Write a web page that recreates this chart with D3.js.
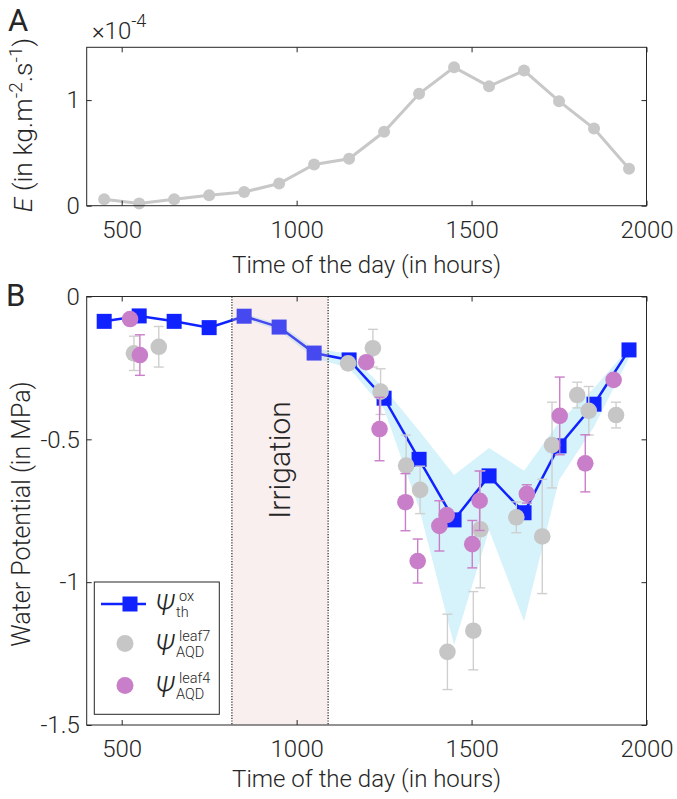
<!DOCTYPE html>
<html><head><meta charset="utf-8">
<script src="https://cdn.jsdelivr.net/npm/d3@7"></script>
<style>
html,body{margin:0;padding:0;background:#fff;}
svg text{font-family:"Roboto","Liberation Sans",Arial,sans-serif;font-weight:300;fill:#262626;}
</style></head>
<body><svg id="c" width="677" height="799"></svg>
<script>
// ---------- DATA ----------
const timesA = [450,550,650,750,850,950,1050,1150,1250,1350,1450,1550,1650,1750,1850,1950];
const evap   = [0.6e-5,0.2e-5,0.6e-5,1.0e-5,1.3e-5,2.1e-5,3.9e-5,4.45e-5,7.0e-5,10.6e-5,13.1e-5,11.3e-5,12.8e-5,9.9e-5,7.3e-5,3.5e-5];

const timesB   = [450,550,650,750,850,950,1050,1150,1250,1350,1450,1550,1650,1750,1850,1950];
const psiTh    = [-0.087,-0.068,-0.087,-0.109,-0.069,-0.107,-0.198,-0.222,-0.356,-0.570,-0.782,-0.628,-0.757,-0.523,-0.377,-0.187];
const psiUpper = [-0.085,-0.066,-0.085,-0.107,-0.060,-0.095,-0.182,-0.200,-0.320,-0.470,-0.625,-0.530,-0.610,-0.440,-0.320,-0.180];
const psiLower = [-0.089,-0.070,-0.089,-0.111,-0.078,-0.120,-0.215,-0.250,-0.395,-0.740,-1.220,-0.817,-1.138,-0.642,-0.456,-0.215];

const leaf7Time = [535,606,1147,1218,1240,1313,1353,1431,1505,1525,1628,1702,1730,1802,1835,1913];
const leaf7Val  = [-0.199,-0.176,-0.234,-0.181,-0.333,-0.592,-0.677,-1.244,-1.170,-0.815,-0.773,-0.840,-0.520,-0.345,-0.400,-0.415];
const leaf7Err  = [0.06,0.071,0.0,0.066,0.08,0.107,0.083,0.132,0.137,0.205,0.054,0.20,0.15,0.045,0.085,0.045];

const leaf4Time = [524,552,1199,1237,1311,1346,1408,1429,1502,1523,1658,1752,1825,1906];
const leaf4Val  = [-0.079,-0.205,-0.230,-0.464,-0.720,-0.926,-0.803,-0.765,-0.867,-0.715,-0.691,-0.418,-0.584,-0.292];
const leaf4Err  = [0.0,0.071,0.0,0.111,0.10,0.077,0.088,0.0,0.083,0.104,0.032,0.136,0.10,0.0];

const irrigation = [815,1090];
const xTicks = [500,1000,1500,2000];
const xTickLabels = ["500","1000","1500","2000"];
const yTicksA = [0,1e-4];
const yTickLabelsA = ["0","1"];
const yTicksB = [-1.5,-1,-0.5,0];
const yTickLabelsB = ["-1.5","-1","-0.5","0"];

// ---------- DRAW ----------
const svg = d3.select("#c");
const L = 86.7, R = 646.5;
const x = d3.scaleLinear().domain([400,2000]).range([L,R]);
const yA = d3.scaleLinear().domain([0,1.5e-4]).range([205.7,47.3]);
const yB = d3.scaleLinear().domain([-1.5,0]).range([725,296.5]);
const AX = "#262626";
const FS = 24;

function axes(y, yt, ytl, top, bottom){
  const gx = svg.append("g").attr("transform",`translate(0,${bottom})`)
    .call(d3.axisBottom(x).tickValues(xTicks).tickFormat((d,i)=>xTickLabels[i]).tickSize(-5).tickPadding(15));
  const gxt = svg.append("g").attr("transform",`translate(0,${top})`)
    .call(d3.axisTop(x).tickValues(xTicks).tickFormat("").tickSize(-5));
  const gy = svg.append("g").attr("transform",`translate(${L},0)`)
    .call(d3.axisLeft(y).tickValues(yt).tickFormat((d,i)=>ytl[i]).tickSize(-5).tickPadding(7));
  const gyr = svg.append("g").attr("transform",`translate(${R},0)`)
    .call(d3.axisRight(y).tickValues(yt).tickFormat("").tickSize(-5));
  [gx,gxt,gy,gyr].forEach(g=>{
    g.select(".domain").remove();
    g.selectAll("line").attr("stroke",AX).attr("stroke-width",1);
    g.selectAll("text").attr("font-size",FS).attr("fill",AX)
      .style("font-family",'"Roboto","Liberation Sans",Arial,sans-serif').style("font-weight",300);
  });
  svg.append("rect").attr("x",L).attr("y",top).attr("width",R-L).attr("height",bottom-top)
    .attr("fill","none").attr("stroke",AX).attr("stroke-width",1);
}

// ----- Panel A -----
svg.append("path").datum(timesA.map((t,i)=>[t,evap[i]]))
  .attr("d",d3.line().x(d=>x(d[0])).y(d=>yA(d[1])))
  .attr("fill","none").attr("stroke","#c8c8c8").attr("stroke-width",3);
svg.selectAll(".ea").data(timesA).enter().append("circle")
  .attr("cx",d=>x(d)).attr("cy",(d,i)=>yA(evap[i])).attr("r",6).attr("fill","#c8c8c8");
axes(yA, yTicksA, yTickLabelsA, 47.3, 205.7);

svg.append("text").attr("x",8).attr("y",31).attr("font-size",31).style("font-weight",400).text("A");
const mult = svg.append("text").attr("x",92).attr("y",39).attr("font-size",24);
mult.append("tspan").text("×10");
mult.append("tspan").attr("font-size",18).attr("dy",-12).text("-4");

const ylA = svg.append("text").attr("transform",`translate(32,125) rotate(-90)`)
  .attr("text-anchor","middle").attr("font-size",26.5);
ylA.append("tspan").style("font-style","italic").text("E");
ylA.append("tspan").text(" (in kg.m");
ylA.append("tspan").attr("font-size",19).attr("dy",-10).text("-2");
ylA.append("tspan").attr("dy",10).text(".s");
ylA.append("tspan").attr("font-size",19).attr("dy",-10).text("-1");
ylA.append("tspan").attr("dy",10).text(")");

svg.append("text").attr("x",(L+R)/2).attr("y",273).attr("text-anchor","middle").attr("font-size",FS)
  .text("Time of the day (in hours)");

// ----- Panel B -----
const area = d3.area().x((d,i)=>x(timesB[i])).y0((d,i)=>yB(psiLower[i])).y1((d,i)=>yB(psiUpper[i]));
svg.append("path").datum(timesB).attr("d",area).attr("fill","#d6f2fa");

svg.append("path").datum(timesB)
  .attr("d",d3.line().x(d=>x(d)).y((d,i)=>yB(psiTh[i])))
  .attr("fill","none").attr("stroke","#1022ff").attr("stroke-width",2.5);
const SQ = 15;
svg.selectAll(".sq").data(timesB).enter().append("rect")
  .attr("x",d=>x(d)-SQ/2).attr("y",(d,i)=>yB(psiTh[i])-SQ/2).attr("width",SQ).attr("height",SQ)
  .attr("fill","#1022ff");

// irrigation band
svg.append("rect").attr("x",x(irrigation[0])).attr("y",yB(0)).attr("width",x(irrigation[1])-x(irrigation[0]))
  .attr("height",yB(-1.5)-yB(0)).attr("fill","rgb(230,190,190)").attr("opacity",0.25);
irrigation.forEach(t=>{
  svg.append("line").attr("x1",x(t)).attr("x2",x(t)).attr("y1",yB(0)).attr("y2",yB(-1.5))
    .attr("stroke","#222").attr("stroke-width",1.2).attr("stroke-dasharray","1.2,1.5");
});
svg.append("text").attr("transform",`translate(290,460) rotate(-90)`)
  .attr("text-anchor","middle").attr("font-size",30).text("Irrigation");

function errPoints(ts, vs, es, col, ecol){
  const g = svg.append("g");
  ts.forEach((t,i)=>{
    if(es[i]>0){
      const cx = x(t), y1 = yB(vs[i]+es[i]), y2 = yB(vs[i]-es[i]);
      g.append("line").attr("x1",cx).attr("x2",cx).attr("y1",y1).attr("y2",y2).attr("stroke",ecol).attr("stroke-width",1.4);
      g.append("line").attr("x1",cx-5).attr("x2",cx+5).attr("y1",y1).attr("y2",y1).attr("stroke",ecol).attr("stroke-width",1.4);
      g.append("line").attr("x1",cx-5).attr("x2",cx+5).attr("y1",y2).attr("y2",y2).attr("stroke",ecol).attr("stroke-width",1.4);
    }
  });
  ts.forEach((t,i)=>{
    g.append("circle").attr("cx",x(t)).attr("cy",yB(vs[i])).attr("r",8.3).attr("fill",col);
  });
}
errPoints(leaf7Time, leaf7Val, leaf7Err, "#c6c6c6", "#cfcfcf");
errPoints(leaf4Time, leaf4Val, leaf4Err, "#c97ec9", "#c97ec9");

axes(yB, yTicksB, yTickLabelsB, 296.5, 725);

svg.append("text").attr("x",6).attr("y",306).attr("font-size",31).style("font-weight",400).text("B");
svg.append("text").attr("transform",`translate(30,514) rotate(-90)`).attr("text-anchor","middle")
  .attr("font-size",25).text("Water Potential (in MPa)");
svg.append("text").attr("x",(L+R)/2).attr("y",787).attr("text-anchor","middle").attr("font-size",FS)
  .text("Time of the day (in hours)");

// ----- Legend -----
const lg = svg.append("g");
lg.append("rect").attr("x",94.3).attr("y",582).attr("width",125).attr("height",132.3)
  .attr("fill","#fff").attr("stroke",AX).attr("stroke-width",1);
const entries = [
  {cy:604, sup:"ox", sub:"th", type:"line"},
  {cy:643.5, sup:"leaf7", sub:"AQD", type:"grey"},
  {cy:685.5, sup:"leaf4", sub:"AQD", type:"pink"}
];
entries.forEach(e=>{
  if(e.type==="line"){
    lg.append("line").attr("x1",101).attr("x2",146).attr("y1",e.cy).attr("y2",e.cy).attr("stroke","#1022ff").attr("stroke-width",2.5);
    lg.append("rect").attr("x",130-SQ/2).attr("y",e.cy-SQ/2).attr("width",SQ).attr("height",SQ).attr("fill","#1022ff");
  } else {
    lg.append("circle").attr("cx",125).attr("cy",e.cy).attr("r",8.5).attr("fill",e.type==="grey"?"#c6c6c6":"#c97ec9");
  }
  lg.append("text").attr("x",155).attr("y",e.cy+11).attr("font-size",29).style("font-style","italic").text("Ψ");
  lg.append("text").attr("x",179).attr("y",e.cy-3).attr("font-size",14.5).text(e.sup);
  lg.append("text").attr("x",176).attr("y",e.cy+13).attr("font-size",14.5).text(e.sub);
});
</script></body></html>
